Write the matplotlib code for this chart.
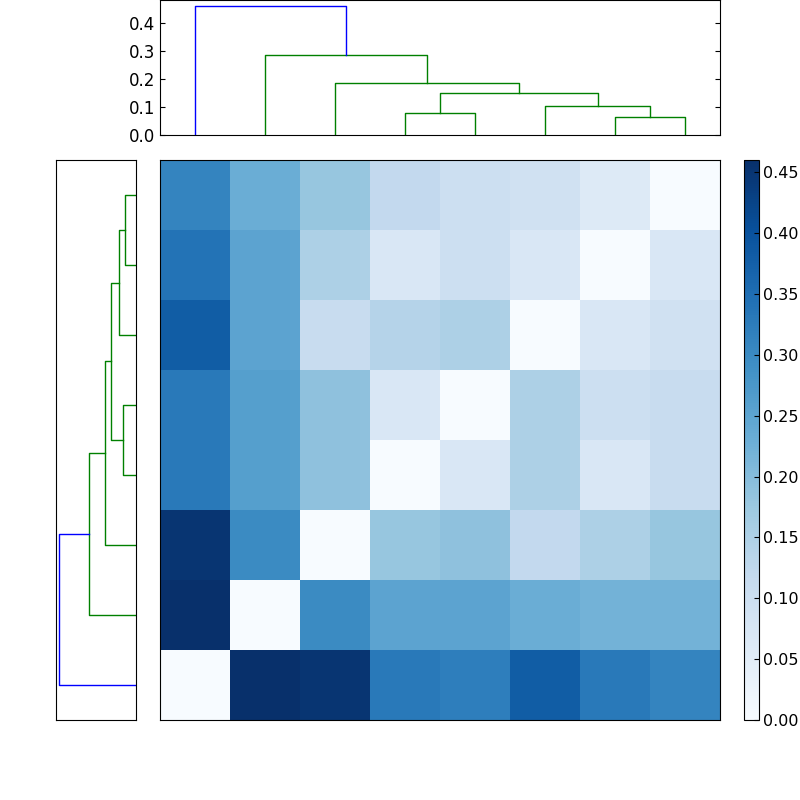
import matplotlib
matplotlib.use("Agg")
import matplotlib.pyplot as plt
import numpy as np

# distance matrix in leaf order (row 0 = bottom)
dist = [
    [0.00, 0.46, 0.45, 0.33, 0.32, 0.38, 0.33, 0.31],
    [0.46, 0.00, 0.30, 0.25, 0.25, 0.23, 0.22, 0.22],
    [0.45, 0.30, 0.00, 0.18, 0.19, 0.12, 0.15, 0.18],
    [0.33, 0.26, 0.19, 0.00, 0.07, 0.15, 0.07, 0.11],
    [0.33, 0.26, 0.19, 0.07, 0.00, 0.15, 0.10, 0.11],
    [0.38, 0.25, 0.11, 0.14, 0.15, 0.00, 0.07, 0.09],
    [0.34, 0.25, 0.15, 0.07, 0.10, 0.07, 0.00, 0.07],
    [0.31, 0.23, 0.18, 0.12, 0.10, 0.09, 0.06, 0.00],
]
# merges: (child_a, child_b, height); new cluster ids start at 8
merges = [(3, 4, 0.08), (6, 7, 0.065), (5, 9, 0.105), (8, 10, 0.15),
          (2, 11, 0.185), (1, 12, 0.285), (0, 13, 0.46)]
cbar_ticks = [0.00, 0.05, 0.10, 0.15, 0.20, 0.25, 0.30, 0.35, 0.40, 0.45]

n = len(dist)
D = np.array(dist)
pos = {i: 5 + 10 * i for i in range(n)}
hgt = {i: 0.0 for i in range(n)}
links = []
for k, (a, b, h) in enumerate(merges):
    cid = n + k
    color = 'b' if k == len(merges) - 1 else (0, 0.5, 0)
    links.append(([pos[a], pos[a], pos[b], pos[b]], [hgt[a], h, h, hgt[b]], color))
    pos[cid] = (pos[a] + pos[b]) / 2
    hgt[cid] = h

fig = plt.figure(figsize=(8, 8), dpi=100)

axt = fig.add_axes([0.2, 0.83125, 0.7, 0.16875])
for xs, ys, c in links:
    axt.plot(xs, ys, color=c, lw=1)
axt.set_xlim(0, 10 * n)
axt.set_ylim(0, 0.482)
axt.set_xticks([])
axt.set_yticks([0.0, 0.1, 0.2, 0.3, 0.4])
axt.tick_params(direction='in', top=True, right=True, labelsize=12)

axl = fig.add_axes([0.07, 0.1, 0.1, 0.7])
for xs, ys, c in links:
    axl.plot(ys, xs, color=c, lw=1)
axl.set_ylim(0, 10 * n)
axl.set_xlim(0.48, 0)
axl.set_xticks([]); axl.set_yticks([])

axh = fig.add_axes([0.2, 0.1, 0.7, 0.7])
im = axh.imshow(D, cmap='Blues', origin='lower', aspect='auto',
                interpolation='nearest', vmin=0, vmax=D.max())
axh.set_xticks([]); axh.set_yticks([])

axc = fig.add_axes([0.93, 0.1, 0.01875, 0.7])
cb = fig.colorbar(im, cax=axc, ticks=cbar_ticks)
cb.ax.set_yticklabels([f"{t:.2f}" for t in cbar_ticks])
cb.ax.tick_params(direction='in', labelsize=11.5, pad=3)

fig.savefig("out.png", dpi=100)
